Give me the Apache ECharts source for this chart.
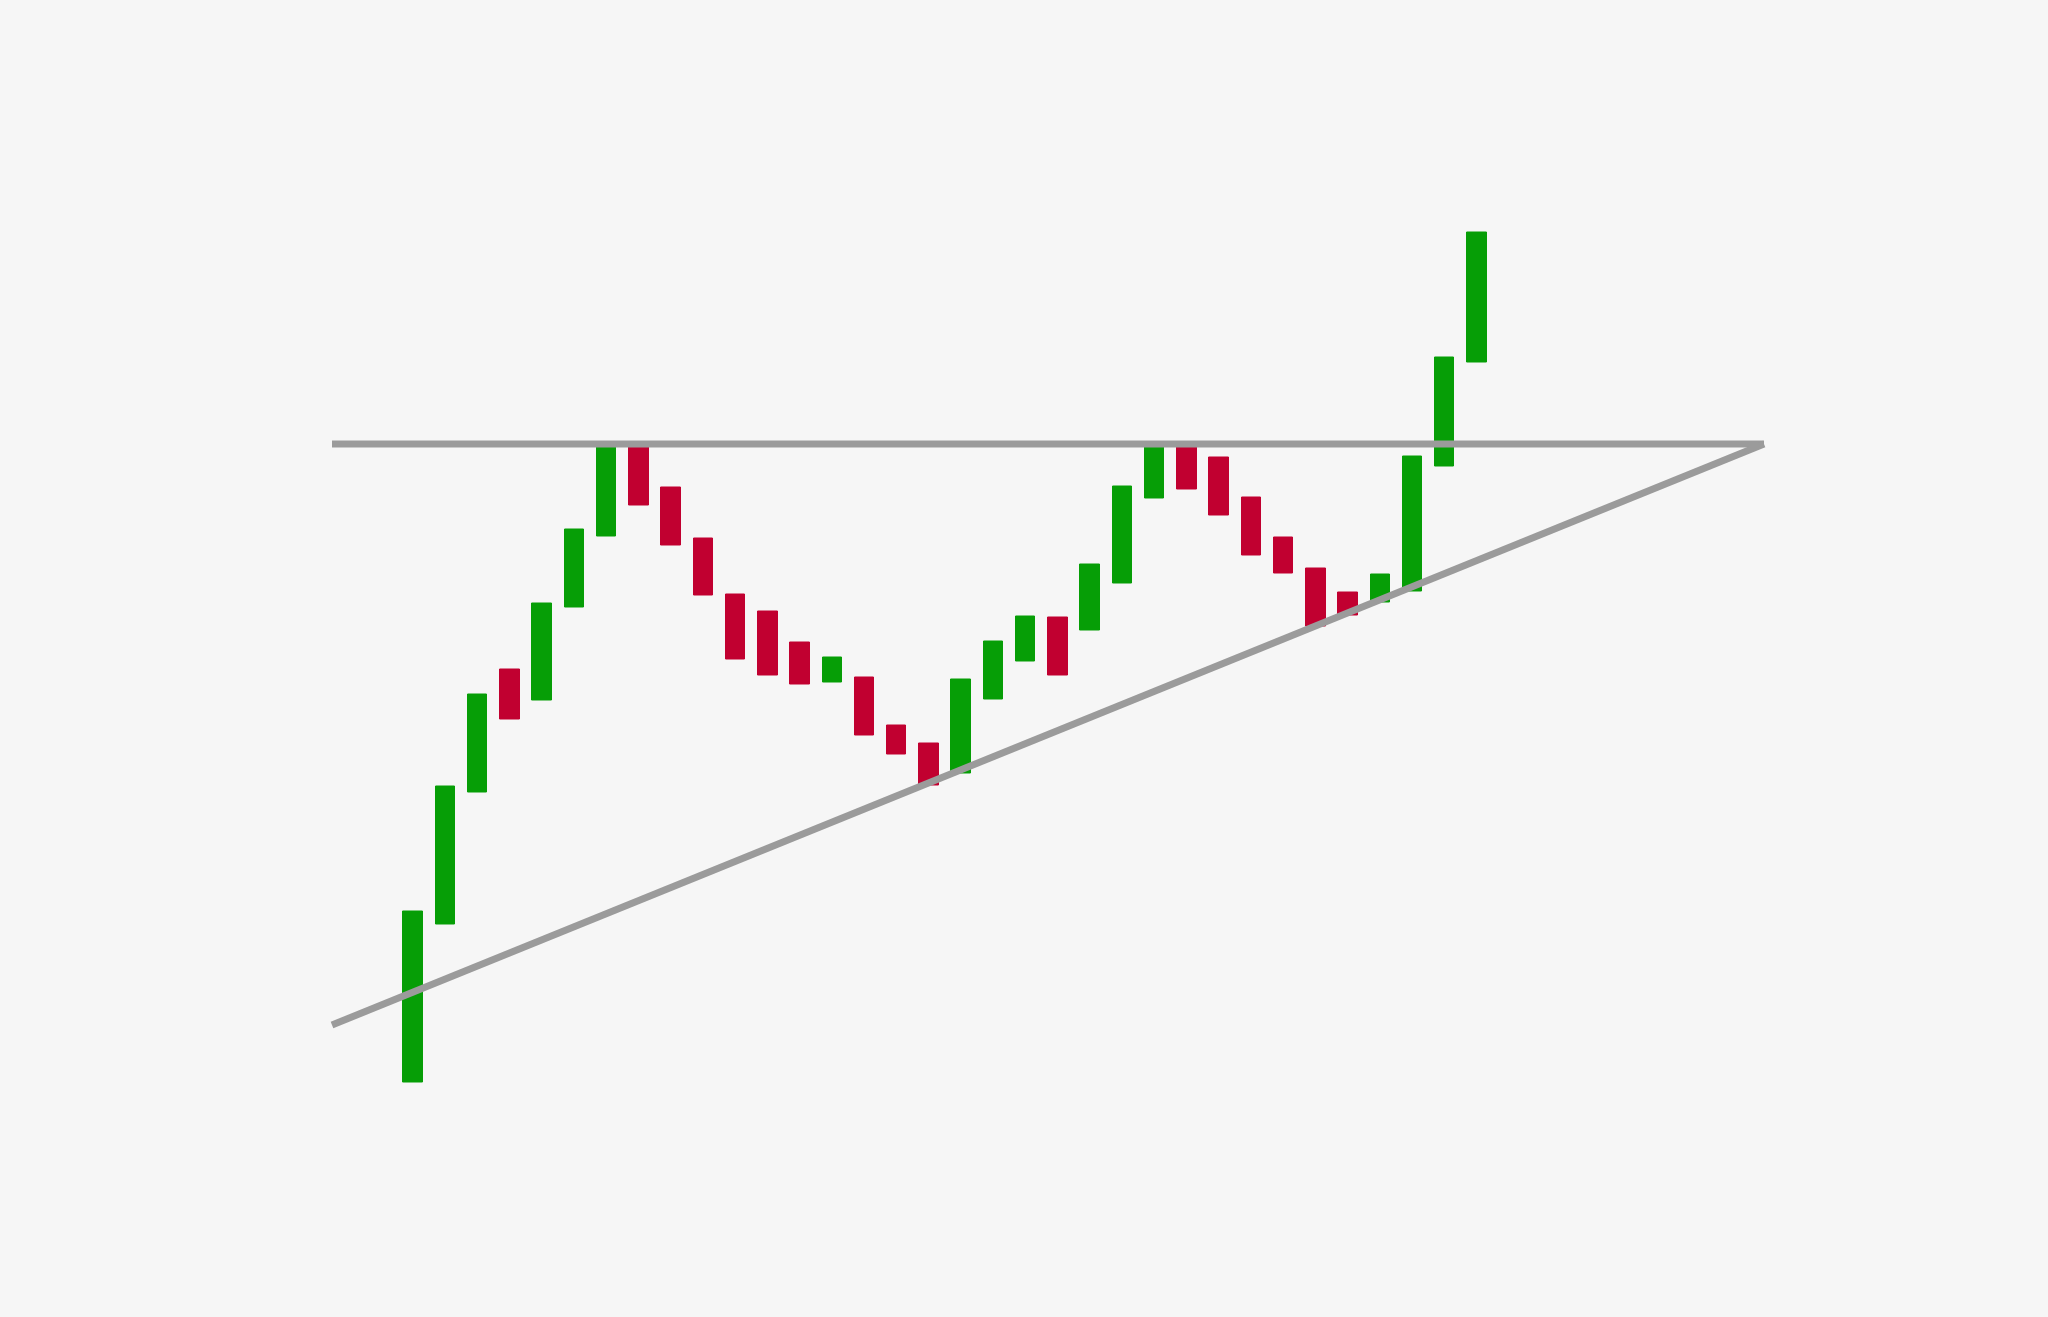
<!DOCTYPE html>
<html>
<head>
<meta charset="utf-8">
<script src="https://cdn.jsdelivr.net/npm/echarts@6/dist/echarts.min.js"></script>
<style>
html,body{margin:0;padding:0;background:#f6f6f6;}
#chart{width:2048px;height:1317px;}
</style>
</head>
<body>
<div id="chart"></div>
<script>
// Candle sessions
const sessions = ['1','2','3','4','5','6','7','8','9','10','11','12','13','14','15','16','17',
  '18','19','20','21','22','23','24','25','26','27','28','29','30','31','32','33','34'];
const opens  = [1.8, 17.6, 30.8, 43.1, 40.0, 49.3, 56.4, 65.6, 61.3, 56.2, 50.6, 48.9, 45.8, 41.8, 42.3, 37.5, 35.7,
  32.7, 40.1, 43.9, 48.3, 47.0, 51.7, 60.2, 65.6, 64.3, 60.3, 56.3, 53.2, 50.8, 49.8, 50.9, 63.4, 73.8];
const closes = [18.9, 31.4, 40.6, 38.1, 49.7, 57.1, 65.6, 59.5, 55.5, 50.5, 44.1, 42.5, 41.6, 44.3, 36.5, 34.6, 31.5,
  42.1, 45.9, 48.4, 42.5, 53.6, 61.4, 65.6, 61.1, 58.5, 54.5, 52.7, 47.4, 48.5, 52.6, 64.4, 74.3, 86.8];
// Resistance level (horizontal line) and rising support trendline, in session-index units
const resistanceLevel = 65.6;
const lineSpan = [-2.5, 41.9];
const trendStart = [-2.5, 7.5];
const trendEnd = [41.9, 65.6];

const candleData = opens.map((o, i) => {
  const c = closes[i];
  return [o, c, Math.min(o, c), Math.max(o, c)];
});

const chart = echarts.init(document.getElementById('chart'), null, {renderer: 'canvas'});
const GREEN = '#069e06';
const RED = '#c10030';
const GREY = '#9b9b9b';

chart.setOption({
  backgroundColor: '#f6f6f6',
  animation: false,
  grid: [
    {left: 396.6, right: 555.4, top: 100, bottom: 217},
    {left: 332, right: 284, top: 100, bottom: 217}
  ],
  xAxis: [
    {type: 'category', gridIndex: 0, data: sessions, boundaryGap: true, show: false},
    {type: 'value', gridIndex: 1, min: lineSpan[0], max: lineSpan[1], show: false}
  ],
  yAxis: [
    {type: 'value', gridIndex: 0, min: 0, max: 100, show: false},
    {type: 'value', gridIndex: 1, min: 0, max: 100, show: false}
  ],
  series: [
    {
      type: 'candlestick',
      xAxisIndex: 0, yAxisIndex: 0,
      data: candleData,
      barWidth: 20,
      itemStyle: {
        color: GREEN, color0: RED,
        borderColor: GREEN, borderColor0: RED,
        borderWidth: 1
      },
      z: 2
    },
    {
      type: 'line',
      xAxisIndex: 1, yAxisIndex: 1,
      data: [[lineSpan[0], resistanceLevel], [lineSpan[1], resistanceLevel]],
      showSymbol: false,
      symbol: 'none',
      clip: false,
      lineStyle: {color: GREY, width: 7, cap: 'butt'},
      z: 5
    },
    {
      type: 'line',
      xAxisIndex: 1, yAxisIndex: 1,
      data: [trendStart, trendEnd],
      showSymbol: false,
      symbol: 'none',
      clip: false,
      lineStyle: {color: GREY, width: 7, cap: 'butt'},
      z: 5
    }
  ]
});
</script>
</body>
</html>
